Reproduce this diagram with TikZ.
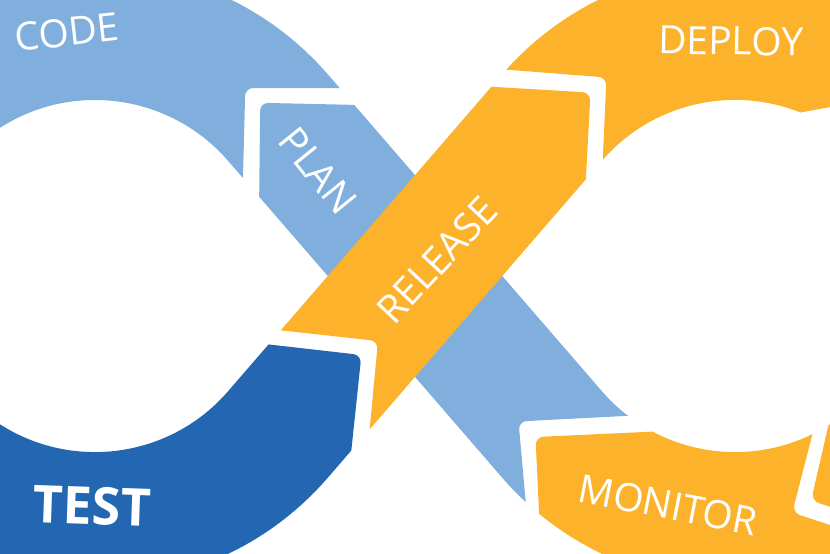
\documentclass[tikz,border=0pt]{standalone}
\usepackage{fontspec}
\setmainfont{Open Sans}
\definecolor{planblue}{HTML}{80AFDD}
\definecolor{testblue}{HTML}{2366B1}
\definecolor{looporange}{HTML}{FDB22C}
\begin{document}
\begin{tikzpicture}[x=1pt, y=-1pt, line join=round,
		band/.style={line width=132pt},
		notch/.style={rounded corners=8pt},
		lbl/.style={text=white, inner sep=0pt, font=\fontsize{39}{42}\selectfont}]
		\def\rad{242} % centre line of the band
		\useasboundingbox (0,0) rectangle (830,554);
		\clip (0,0) rectangle (830,554);
		%left loop
		\begin{scope}
			\clip[notch] (245.3,88)--(450,88)--(450,-100)--(-300,-100)--(-300,276)--(240.4,276)--cycle;
			\draw[band, planblue] (-147,276) arc[start angle=180, end angle=319.14, radius=\rad]--++(26.2,30.2);
		\end{scope}
		\begin{scope}
			\clip[notch] (361.4,355)--(341.9,540)--(150,700)--(-300,700)--(-300,276)--(200,336.6)--cycle;
			\draw[band, testblue] (389.2,305.9)--(278,434.4) arc[start angle=40.86, end angle=180, radius=\rad];
		\end{scope}
		%diagonal under
		\begin{scope}
			\clip[notch] (260.2,102.8)--(450,107)--(720,411)--(518.5,421.5)--(552.4,800)--(258.4,270)--cycle;
			\draw[band, planblue] (177.8,48.6) arc[start angle=290, end angle=319.14, radius=\rad]--(552,434.4)
				arc[start angle=139.14, end angle=115, radius=\rad];
		\end{scope}
		%right loop
		\begin{scope}
			\clip[notch] (535.5,437)--(740,427.6)--(826.3,380)--(792.3,512.6)--(1000,581)--(1000,800)--(552.4,800)--cycle;
			\draw[band, looporange] (525.8,404.2)--(552,434.4) arc[start angle=139.14, end angle=60, radius=\rad];
		\end{scope}
		\begin{scope}
			\clip[notch] (811.1,500.5)--(1000,563)--(1000,380)--(838.8,380)--cycle;
			\draw[band, looporange] (777,514.3) arc[start angle=80, end angle=-10, radius=\rad];
		\end{scope}
		\begin{scope}
			\clip[notch] (606.5,77.5)--(600,220)--(760,120)--(1000,75.6)--(1000,-300)--(400,-300)--(400,61.3)--cycle;
			\draw[band, looporange] (552,117.6) arc[start angle=-139.14, end angle=-20, radius=\rad];
		\end{scope}
		%diagonal over
		\begin{scope}
			\clip[notch] (378,341)--(363.9,490)--(582.1,250)--(590.5,92.6)--(430,83.1)--(230,324.8)--cycle;
			\draw[band, looporange] (278,434.4)--(552,117.6) arc[start angle=-139.14, end angle=-115, radius=\rad];
		\end{scope}
		%labels
		\node[lbl, rotate=6.5] (code) at (67,32) {CODE};
		\node[lbl, rotate=-51] (plan) at (318,171) {PLAN};
		\node[lbl, rotate=47] (release) at (437,260) {RELEASE};
		\node[lbl, rotate=-1] (deploy) at (731,41) {DEPLOY};
		\node[lbl, rotate=-11] (monitor) at (668,505) {MONITOR};
		\node[lbl, rotate=-2, font=\fontsize{52}{56}\selectfont\bfseries] (test) at (92,506) {TEST};
	\end{tikzpicture}
\end{document}
